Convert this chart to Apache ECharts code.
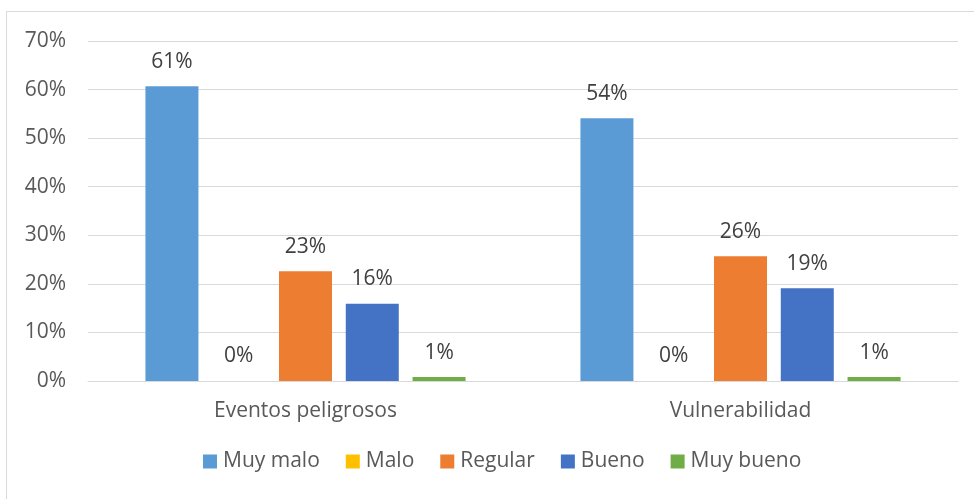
<!DOCTYPE html>
<html>
<head>
<meta charset="utf-8">
<script src="https://cdn.jsdelivr.net/npm/echarts@6/dist/echarts.min.js"></script>
<style>
  html, body { margin: 0; padding: 0; background: #fff; }
  #chart { width: 974px; height: 499px; }
</style>
</head>
<body>
<div id="chart"></div>
<script>
// categorías y series (porcentajes)
const categories = ['Eventos peligrosos', 'Vulnerabilidad'];
const seriesNames = ['Muy malo', 'Malo', 'Regular', 'Bueno', 'Muy bueno'];
const muyMalo = [60.7, 54.1];
const malo = [0, 0];
const regular = [22.6, 25.7];
const bueno = [15.9, 19.1];
const muyBueno = [0.8, 0.8];
const yTicks = [0, 10, 20, 30, 40, 50, 60, 70];

const colors = ['#5B9BD5', '#FFC000', '#ED7D31', '#4472C4', '#70AD47'];
const values = [muyMalo, malo, regular, bueno, muyBueno];
const font = '"Open Sans", "Liberation Sans", sans-serif';

const chart = echarts.init(document.getElementById('chart'));

const series = seriesNames.map(function (name, i) {
  return {
    name: name,
    type: 'bar',
    data: values[i],
    barWidth: 53,
    barGap: '26%',
    itemStyle: { color: colors[i] },
    label: {
      show: true,
      position: 'top',
      distance: 14,
      color: '#404040',
      fontSize: 21,
      fontFamily: font,
      formatter: function (p) { return Math.round(p.value) + '%'; }
    },
    emphasis: { disabled: true }
  };
});

chart.setOption({
  animation: false,
  backgroundColor: '#fff',
  graphic: [{
    type: 'rect',
    shape: { x: 6.5, y: 11.5, width: 1000, height: 600 },
    style: { fill: 'none', stroke: '#D9D9D9', lineWidth: 1 },
    silent: true
  }],
  grid: { left: 88, right: 16, top: 41, bottom: 118 },
  legend: {
    data: seriesNames,
    bottom: 22,
    left: 198,
    itemWidth: 14,
    itemHeight: 14,
    itemGap: 26,
    icon: 'rect',
    textStyle: { color: '#595959', fontSize: 21, fontFamily: font, padding: [0, 0, 0, 1] }
  },
  xAxis: {
    type: 'category',
    data: categories,
    axisLine: { lineStyle: { color: '#D9D9D9', width: 1 } },
    axisTick: { show: false },
    axisLabel: { color: '#595959', fontSize: 21, fontFamily: font, margin: 20 }
  },
  yAxis: {
    type: 'value',
    min: yTicks[0],
    max: yTicks[yTicks.length - 1],
    interval: 10,
    axisLine: { show: false },
    axisTick: { show: false },
    splitLine: { lineStyle: { color: '#D9D9D9', width: 1 } },
    axisLabel: {
      color: '#595959', fontSize: 21, fontFamily: font, margin: 22,
      formatter: '{value}%'
    }
  },
  series: series
});
</script>
</body>
</html>
